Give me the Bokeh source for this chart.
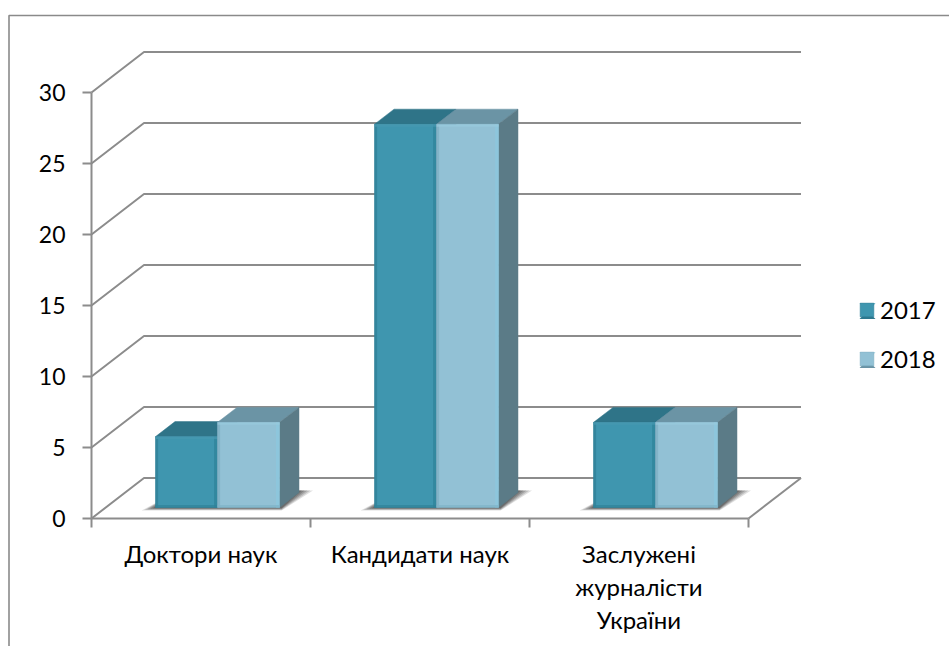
from bokeh.plotting import figure
from bokeh.models import LinearAxis, FixedTicker, Range1d, Legend, LegendItem
from bokeh.embed import file_html
from bokeh.resources import INLINE

categories = ["Доктори наук", "Кандидати наук", "Заслужені\nжурналісти\nУкраїни"]
series_names = ["2017", "2018"]
values_2017 = [5, 27, 6]
values_2018 = [6, 27, 6]
y_ticks = [0, 5, 10, 15, 20, 25, 30]

W, H = 949, 646
X0, PX_CAT = 91.0, 219.0
Y0, PX_VAL = 518.0, 14.2
DEPTH_PX = (52.5, 40.5)
px_x = lambda s: (s - X0) / PX_CAT
px_y = lambda s: (Y0 - s) / PX_VAL
dx = DEPTH_PX[0] / PX_CAT
dy = DEPTH_PX[1] / PX_VAL
def proj(x, v, d=0.0):
    return x + d * dx, v + d * dy

p = figure(width=W, height=H, output_backend="svg", toolbar_location=None,
           x_axis_type=None, y_axis_type=None, min_border=0,
           x_range=Range1d(px_x(0), px_x(W)),
           y_range=Range1d(px_y(H), px_y(0)))
p.grid.visible = False
p.outline_line_color = None
p.background_fill_color = "white"
p.border_fill_color = "white"

GRID = "#8c8c8c"
p.line([px_x(8.5), px_x(8.5), px_x(949)], [px_y(646), px_y(15), px_y(15)], line_color="#8a8a8a", line_width=1.6)

for v in y_ticks:
    xa, ya = proj(0, v)
    xb, yb = proj(0, v, 1)
    xc, yc = proj(3, v, 1)
    p.line([xa, xb, xc], [ya, yb, yc], line_color=GRID, line_width=2)
xa, ya = proj(3, 0)
xb, yb = proj(3, 0, 1)
p.line([xa, xb], [ya, yb], line_color=GRID, line_width=2)

BAR_W = 0.283
BAR_START = 0.228
D0, D1 = 0.27, 0.64
px_w = 1 / PX_CAT
px_h = 1 / PX_VAL

# floor shadows
for i in range(3):
    x0 = i + BAR_START
    x1 = x0 + 2 * BAR_W
    for grow, alpha in [(1.0, 0.16), (0.8, 0.2), (0.6, 0.24), (0.4, 0.28), (0.2, 0.32)]:
        g = grow * 14
        xs = [proj(x0, 0, D0)[0] - g * px_w, proj(x1, 0, D0)[0] + 2 * px_w,
              proj(x1, 0, D1)[0] + g * 1.0 * px_w, proj(x1, 0, D1)[0], proj(x0, 0, D1)[0]]
        ys = [proj(x0, 0, D0)[1] - 3 * grow * px_h, proj(x1, 0, D0)[1] - 3 * grow * px_h,
              proj(x1, 0, D1)[1] + 2 * px_h, proj(x1, 0, D1)[1] + 2 * px_h, proj(x0, 0, D1)[1]]
        p.patch(xs, ys, fill_color="#3a3a3a", fill_alpha=alpha, line_color=None)

styles = {
    "2017": dict(front="#3F96AF", top="#2F7488", side="#2C7085", left="#2F7F96", right="#2E8199", bottom="#2F8199", toph="#4799B1", sw_top="#74BBCF", sw_bot="#2E788E"),
    "2018": dict(front="#92C1D5", top="#6B94A5", side="#5B7B87", left="#7DAEC2", right="#8BC8DE", bottom="#7FB3C7", toph="#98CADD", sw_top="#B8DCE8", sw_bot="#6A93A5"),
}
legend_r = {}
for s, vals in zip(series_names, [values_2017, values_2018]):
    st = styles[s]
    off = 0 if s == "2017" else BAR_W
    xs_f, ys_f = [], []
    for i, v in enumerate(vals):
        x0 = i + BAR_START + off
        x1 = x0 + BAR_W
        t = [proj(x0, v, D0), proj(x1, v, D0), proj(x1, v, D1), proj(x0, v, D1)]
        p.patch([a[0] for a in t], [a[1] for a in t], fill_color=st["top"], line_color=st["top"], line_width=1, line_alpha=0.5)
        t = [proj(x1, 0, D0), proj(x1, v, D0), proj(x1, v, D1), proj(x1, 0, D1)]
        p.patch([a[0] for a in t], [a[1] for a in t], fill_color=st["side"], line_color=st["side"], line_width=1, line_alpha=0.5)
        a = proj(x0, 0, D0)
        b = proj(x1, v, D0)
        xs_f.append([a[0], b[0], b[0], a[0]])
        ys_f.append([a[1], a[1], b[1], b[1]])
    r = p.patches(xs_f, ys_f, fill_color=st["front"], line_color=st["left"], line_width=1, line_alpha=0.6)
    legend_r[s] = r
    for fx, fy in zip(xs_f, ys_f):
        l, rr, bt, tp = fx[0], fx[1], fy[0], fy[2]
        p.quad(left=l, right=l + 2.5 * px_w, bottom=bt, top=tp, fill_color=st["left"], line_color=None, fill_alpha=0.7)
        p.quad(left=rr - 3.5 * px_w, right=rr, bottom=bt, top=tp, fill_color=st["right"], line_color=None, fill_alpha=0.7)
        p.quad(left=l, right=rr, bottom=bt, top=bt + 2.5 * px_h, fill_color=st["bottom"], line_color=None, fill_alpha=0.7)
        p.quad(left=l, right=rr, bottom=tp - 2.5 * px_h, top=tp, fill_color=st["toph"], line_color=None, fill_alpha=0.7)

FONT = "Lato"
yax = LinearAxis(fixed_location=0, ticker=FixedTicker(ticks=y_ticks), bounds=(0, 30))
yax.axis_line_color = GRID
yax.axis_line_width = 2
yax.major_tick_line_color = GRID
yax.major_tick_line_width = 2
yax.major_tick_in = 0
yax.major_tick_out = 9
yax.minor_tick_line_color = None
yax.major_label_text_font = FONT
yax.major_label_text_font_size = "23px"
yax.major_label_text_color = "#000000"
yax.major_label_standoff = 17
p.add_layout(yax, "left")

xax = LinearAxis(fixed_location=0, bounds=(0, 3),
                 ticker=FixedTicker(ticks=[0.5, 1.5, 2.5], minor_ticks=[0, 1, 2, 3]))
xax.major_label_overrides = {0.5: categories[0], 1.5: categories[1], 2.5: categories[2]}
xax.axis_line_color = GRID
xax.axis_line_width = 2
xax.major_tick_line_color = None
xax.major_tick_in = 0
xax.major_tick_out = 0
xax.minor_tick_line_color = GRID
xax.minor_tick_line_width = 2
xax.minor_tick_in = 0
xax.minor_tick_out = 9
xax.major_label_text_font = FONT
xax.major_label_text_font_size = "24px"
xax.major_label_text_color = "#000000"
xax.major_label_text_line_height = 1.14
xax.major_label_standoff = 11
p.add_layout(xax, "below")

legend = Legend(items=[LegendItem(label=s, renderers=[legend_r[s]]) for s in series_names],
                location=(858, 646 - 373), orientation="vertical", background_fill_alpha=0,
                border_line_color=None, glyph_width=17, glyph_height=17, label_width=50,
                label_height=17, spacing=20, padding=0, margin=0, label_standoff=5,
                label_text_font=FONT, label_text_font_size="24px", label_text_color="#000000")
p.add_layout(legend)

# bevels on the legend swatches
for s, top_y in zip(series_names, [302.5, 351.5]):
    st = styles[s]
    L, R, T, B = 859.0, 875.0, top_y, top_y + 16
    p.patch([px_x(L), px_x(R), px_x(R - 3), px_x(L + 3)], [px_y(T), px_y(T), px_y(T + 4), px_y(T + 4)],
            fill_color=st["sw_top"], line_color=None, level="overlay")
    p.patch([px_x(L), px_x(R), px_x(R - 3), px_x(L + 3)], [px_y(B), px_y(B), px_y(B - 3), px_y(B - 3)],
            fill_color=st["sw_bot"], line_color=None, level="overlay")

open("out.html", "w").write(file_html(p, INLINE))
